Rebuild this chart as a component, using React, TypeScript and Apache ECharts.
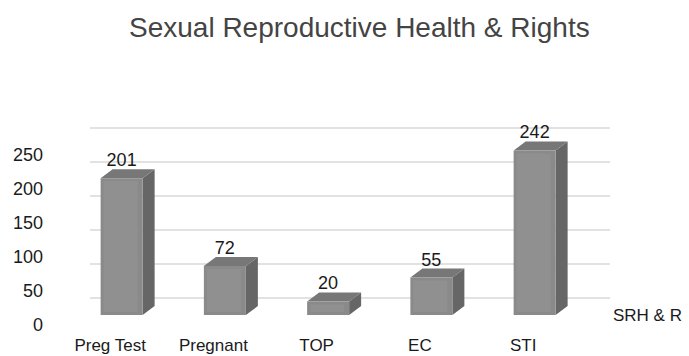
import React, { useEffect, useRef } from "react";
import * as echarts from "echarts";

// Chart content
const titleText = "Sexual Reproductive Health & Rights";
const seriesName = "SRH & R";
const categories = ["Preg Test", "Pregnant", "TOP", "EC", "STI"];
const values = [201, 72, 20, 55, 242];
const yMin = 0;
const yMax = 250;
const yInterval = 50;

// Box geometry for the pseudo-3D columns (pixels)
const FACE_W = 42;
const DEPTH_X = 12;
const DEPTH_Y = 9;
const FACE_SHIFT_X = 11.5;
const FACE_SHIFT_Y = -10;

const FONT = "Liberation Sans, Arial, sans-serif";

export default function App() {
  const ref = useRef<HTMLDivElement>(null);

  useEffect(() => {
    if (!ref.current) return;
    const chart = echarts.init(ref.current, undefined, { renderer: "svg" });

    const renderBox = (params: any, api: any) => {
      const idx = api.value(0);
      const v = api.value(1);
      const base = api.coord([idx, 0]);
      const top = api.coord([idx, v]);
      const cx = base[0] + FACE_SHIFT_X;
      const yb = base[1] + FACE_SHIFT_Y;
      const yt = top[1] + FACE_SHIFT_Y;
      const l = cx - FACE_W / 2;
      const r = cx + FACE_W / 2;
      return {
        type: "group",
        children: [
          {
            type: "polygon",
            shape: {
              points: [
                [r, yt],
                [r + DEPTH_X, yt - DEPTH_Y],
                [r + DEPTH_X, yb - DEPTH_Y],
                [r, yb],
              ],
            },
            style: { fill: "#666666" },
          },
          {
            type: "polygon",
            shape: {
              points: [
                [l, yt],
                [l + DEPTH_X, yt - DEPTH_Y],
                [r + DEPTH_X, yt - DEPTH_Y],
                [r, yt],
              ],
            },
            style: { fill: "#777777" },
          },
          {
            type: "rect",
            shape: { x: l, y: yt, width: FACE_W, height: yb - yt },
            style: { fill: "#8a8a8a" },
          },
          {
            type: "rect",
            shape: {
              x: l + 3,
              y: yt + 3,
              width: FACE_W - 8,
              height: Math.max(0, yb - yt - 6),
            },
            style: { fill: "#909090" },
          },
          {
            type: "text",
            x: cx,
            y: yt - 18,
            style: {
              text: String(v),
              fill: "#1a1a1a",
              font: `18px ${FONT}`,
              align: "center",
              verticalAlign: "middle",
            },
          },
        ],
      };
    };

    chart.setOption({
      animation: false,
      backgroundColor: "#ffffff",
      title: {
        text: titleText,
        left: 124,
        top: 8,
        textStyle: {
          fontFamily: FONT,
          fontSize: 28,
          fontWeight: "normal",
          color: "#444444",
        },
      },
      legend: {
        data: [seriesName],
        left: 603,
        top: 302,
        icon: "rect",
        itemWidth: 0,
        itemHeight: 0,
        itemGap: 0,
        textStyle: { fontFamily: FONT, fontSize: 17, color: "#1a1a1a" },
      },
      grid: [
        // front plane: value labels, category labels, boxes
        { left: 58.5, width: 516.25, top: 155, height: 170 },
        // back wall: gridlines
        { left: 90, width: 520, top: 127.3, height: 170 },
      ],
      xAxis: [
        {
          type: "category",
          gridIndex: 0,
          data: categories,
          axisLine: { show: false },
          axisTick: { show: false },
          splitLine: { show: false },
          axisLabel: {
            margin: 12,
            fontFamily: FONT,
            fontSize: 17,
            color: "#1a1a1a",
          },
        },
        {
          type: "category",
          gridIndex: 1,
          data: categories,
          show: false,
        },
      ],
      yAxis: [
        {
          type: "value",
          gridIndex: 0,
          min: yMin,
          max: yMax,
          interval: yInterval,
          axisLine: { show: false },
          axisTick: { show: false },
          splitLine: { show: false },
          axisLabel: {
            margin: 15.5,
            fontFamily: FONT,
            fontSize: 18,
            color: "#1a1a1a",
          },
        },
        {
          type: "value",
          gridIndex: 1,
          min: yMin,
          max: yMax,
          interval: yInterval,
          axisLine: { show: false },
          axisTick: { show: false },
          axisLabel: { show: false },
          splitLine: { lineStyle: { color: "#d9d9d9", width: 1.5 } },
        },
      ],
      series: [
        {
          name: seriesName,
          type: "custom",
          xAxisIndex: 0,
          yAxisIndex: 0,
          renderItem: renderBox,
          encode: { x: 0, y: 1 },
          data: values.map((v, i) => [i, v]),
          itemStyle: { color: "#8a8a8a" },
        },
      ],
    });

    return () => chart.dispose();
  }, []);

  return (
    <div
      ref={ref}
      style={{ position: "fixed", left: 0, top: 0, width: 689, height: 356 }}
    />
  );
}
